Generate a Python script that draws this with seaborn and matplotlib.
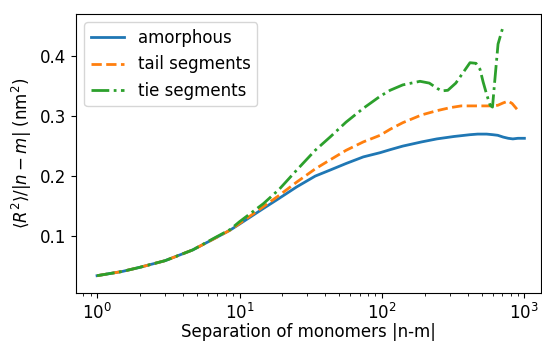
import matplotlib
matplotlib.use("Agg")
import matplotlib.pyplot as plt
import matplotlib.ticker as mticker
import seaborn as sns
import pandas as pd

# Data
amorphous_x = [1, 1.5, 2, 3, 4.7, 6.8, 8.6, 10, 14.7, 19, 25.2, 34, 43.2, 56, 74, 97, 114, 140, 190,
               243, 320, 415, 470, 543, 600, 650, 710, 770, 830, 900, 1000]
amorphous_y = [0.034, 0.041, 0.048, 0.059, 0.077, 0.097, 0.110, 0.120, 0.146, 0.163, 0.182, 0.200,
               0.210, 0.221, 0.232, 0.239, 0.244, 0.250, 0.257, 0.262, 0.266, 0.269, 0.270, 0.270,
               0.269, 0.268, 0.265, 0.263, 0.262, 0.263, 0.263]

tail_x = [1, 1.5, 2, 3, 4.7, 6.8, 8.6, 10, 14.7, 19, 25.2, 34, 43.2, 56, 74, 97, 114, 140, 190,
          243, 300, 360, 450, 575, 650, 710, 770, 820, 890]
tail_y = [0.034, 0.041, 0.048, 0.059, 0.077, 0.097, 0.110, 0.121, 0.149, 0.168, 0.190, 0.212,
          0.227, 0.243, 0.257, 0.268, 0.278, 0.289, 0.302, 0.309, 0.314, 0.317, 0.317, 0.317,
          0.318, 0.322, 0.325, 0.321, 0.311]

tie_x = [1, 1.5, 2, 3, 4.7, 6.8, 8.6, 10, 14.7, 19, 25.2, 34, 43.2, 56, 74, 97, 114, 140, 185,
         215, 245, 263, 290, 330, 370, 415, 457, 488, 513, 545, 575, 597, 620, 653, 708]
tie_y = [0.034, 0.041, 0.048, 0.059, 0.077, 0.098, 0.111, 0.124, 0.154, 0.178, 0.210, 0.243,
         0.265, 0.290, 0.313, 0.333, 0.343, 0.352, 0.358, 0.355, 0.346, 0.342, 0.343, 0.355,
         0.372, 0.389, 0.388, 0.378, 0.357, 0.335, 0.318, 0.315, 0.360, 0.420, 0.449]

series_labels = ["amorphous", "tail segments", "tie segments"]
x_label = "Separation of monomers |n-m|"
y_label = r"$\langle R^2\rangle/|n-m|$ (nm$^2$)"

plt.rcParams["font.size"] = 12
plt.rcParams["font.family"] = ["DejaVu Sans"]

fig = plt.figure(figsize=(5.42, 3.44), dpi=100)
ax = fig.add_axes([0.140, 0.148, 0.858, 0.811])

palette = sns.color_palette("tab10")
styles = ["-", "--", "-."]
for (xs, ys), lab, col, ls in zip([(amorphous_x, amorphous_y), (tail_x, tail_y), (tie_x, tie_y)],
                                  series_labels, [palette[0], palette[1], palette[2]], styles):
    df = pd.DataFrame({"x": xs, "y": ys})
    sns.lineplot(data=df, x="x", y="y", ax=ax, color=col, linestyle=ls, linewidth=2,
                 label=lab, sort=False, estimator=None)

ax.set_xscale("log")
ax.set_xlim(0.71, 1306)
ax.set_ylim(0.005, 0.47)
ax.set_yticks([0.1, 0.2, 0.3, 0.4])
ax.xaxis.set_minor_locator(mticker.LogLocator(base=10, subs=range(2, 10), numticks=20))
ax.tick_params(axis="both", which="major", direction="out", length=3.5, width=0.8)
ax.tick_params(axis="x", which="minor", direction="out", length=2, width=0.6)
ax.set_xlabel(x_label, labelpad=0)
ax.set_ylabel(y_label)
ax.legend(loc="upper left", fontsize=12)

fig.savefig("out.png", dpi=100)
